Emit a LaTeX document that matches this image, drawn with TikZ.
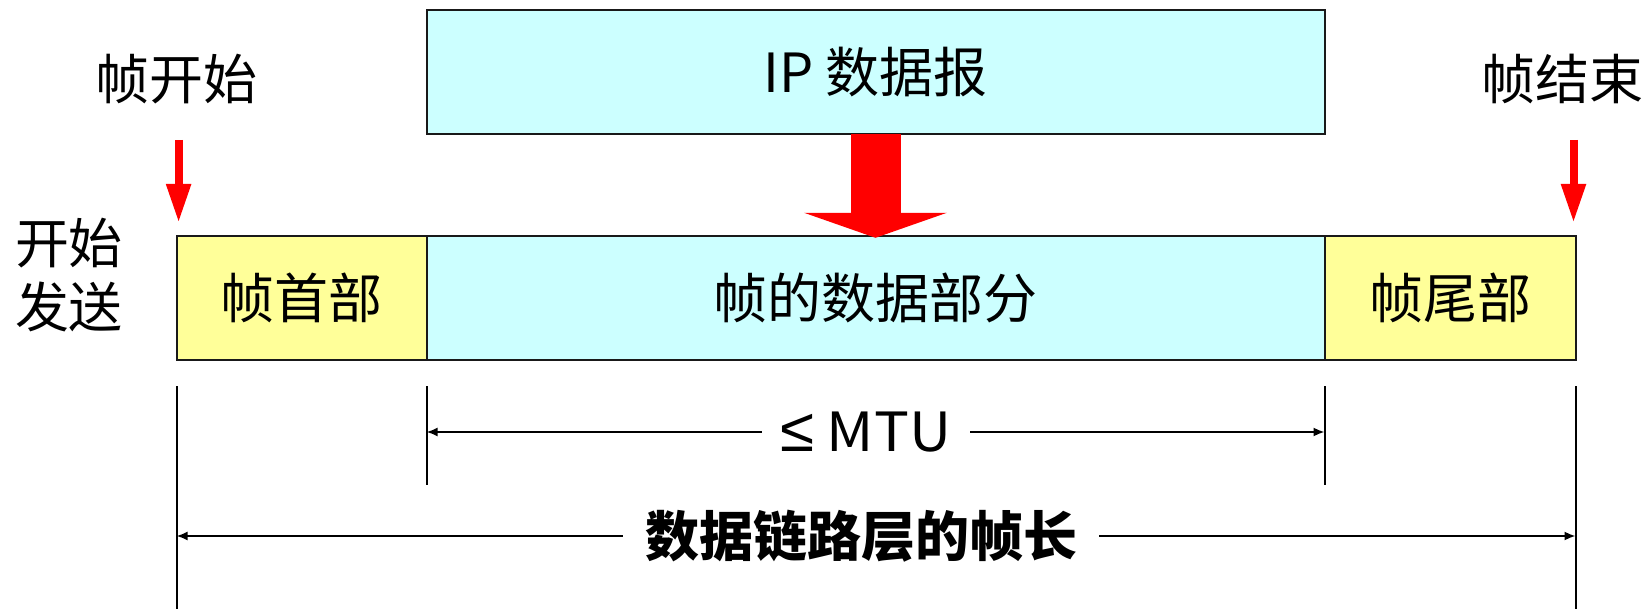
\documentclass[tikz,border=0pt]{standalone}
\usepackage{fontspec}
\setmainfont{Noto Sans CJK SC}
\newfontfamily\symfam{Liberation Sans}
\usetikzlibrary{arrows.meta}
\definecolor{cyanfill}{HTML}{CCFFFF}
\definecolor{yellowfill}{HTML}{FFFF99}
\begin{document}
\begin{tikzpicture}[x=1pt,y=-1pt,
  box/.style={draw=black!90, line width=2pt, inner sep=0pt, outer sep=0pt, minimum height=124pt, font=\fontsize{54}{60}\selectfont},
  lbl/.style={font=\fontsize{54}{64}\selectfont, inner sep=0pt},
  redptr/.style={draw=red, line width=8pt, -{Triangle[length=39pt,width=23pt]}},
  bigptr/.style={draw=red, line width=50pt, -{Triangle[length=25pt,width=142pt]}},
  vline/.style={draw=black, line width=2pt},
  dimarrow/.style={draw=black, line width=2pt, -{Latex[length=11pt,width=9pt]}}
]
\useasboundingbox (0,0) rectangle (1647,609);

% boxes
\node[box, fill=cyanfill, minimum width=898pt] (ip) at (875.5,72.5) {IP 数据报};
\node[box, fill=yellowfill, minimum width=250pt] (hdr) at (301.5,298.3) {帧首部};
\node[box, fill=cyanfill, minimum width=898pt] (data) at (875.5,298.3) {帧的数据部分};
\node[box, fill=yellowfill, minimum width=251pt] (trl) at (1450.1,298.3) {帧尾部};

% labels
\node[lbl] (fs) at (176.5,79) {帧开始};
\node[lbl] (fe) at (1562,79) {帧结束};
\node[lbl, align=center] (send) at (69,275) {开始\\发送};

% red pointers
\coordinate (s1) at (178.6,140);
\coordinate (t1) at (178.6,223);
\coordinate (s2) at (1573.5,140);
\coordinate (t2) at (1573.5,223);
\draw[redptr] (s1) -- (t1);
\draw[redptr] (s2) -- (t2);
\draw[bigptr] (ip.south) -- ([yshift=-1.5pt]data.north);

% vertical extension lines
\coordinate (v1t) at (176.5,386.5);
\coordinate (v1b) at (176.5,609);
\coordinate (v2t) at (426.5,386.5);
\coordinate (v2b) at (426.5,485);
\coordinate (v3t) at (1324.6,386.5);
\coordinate (v3b) at (1324.6,485);
\coordinate (v4t) at (1575.6,386.5);
\coordinate (v4b) at (1575.6,609);
\draw[vline] (v1t) -- (v1b);
\draw[vline] (v2t) -- (v2b);
\draw[vline] (v3t) -- (v3b);
\draw[vline] (v4t) -- (v4b);

% dimension labels
\node[lbl, inner xsep=19pt] (mtu) at (866,432) {{\symfam\fontsize{62}{64}\selectfont ≤} \scalebox{1.08}[1]{MTU}};
\draw[dimarrow] (mtu.west) -- (mtu.west -| v2t);
\draw[dimarrow] (mtu.east) -- (mtu.east -| v3t);

\node[lbl, inner xsep=22pt] (len) at (861,536) {\fontsize{54}{60}\selectfont\bfseries 数据链路层的帧长};
\draw[dimarrow] (len.west) -- (len.west -| v1t);
\draw[dimarrow] (len.east) -- (len.east -| v4t);
\end{tikzpicture}
\end{document}
